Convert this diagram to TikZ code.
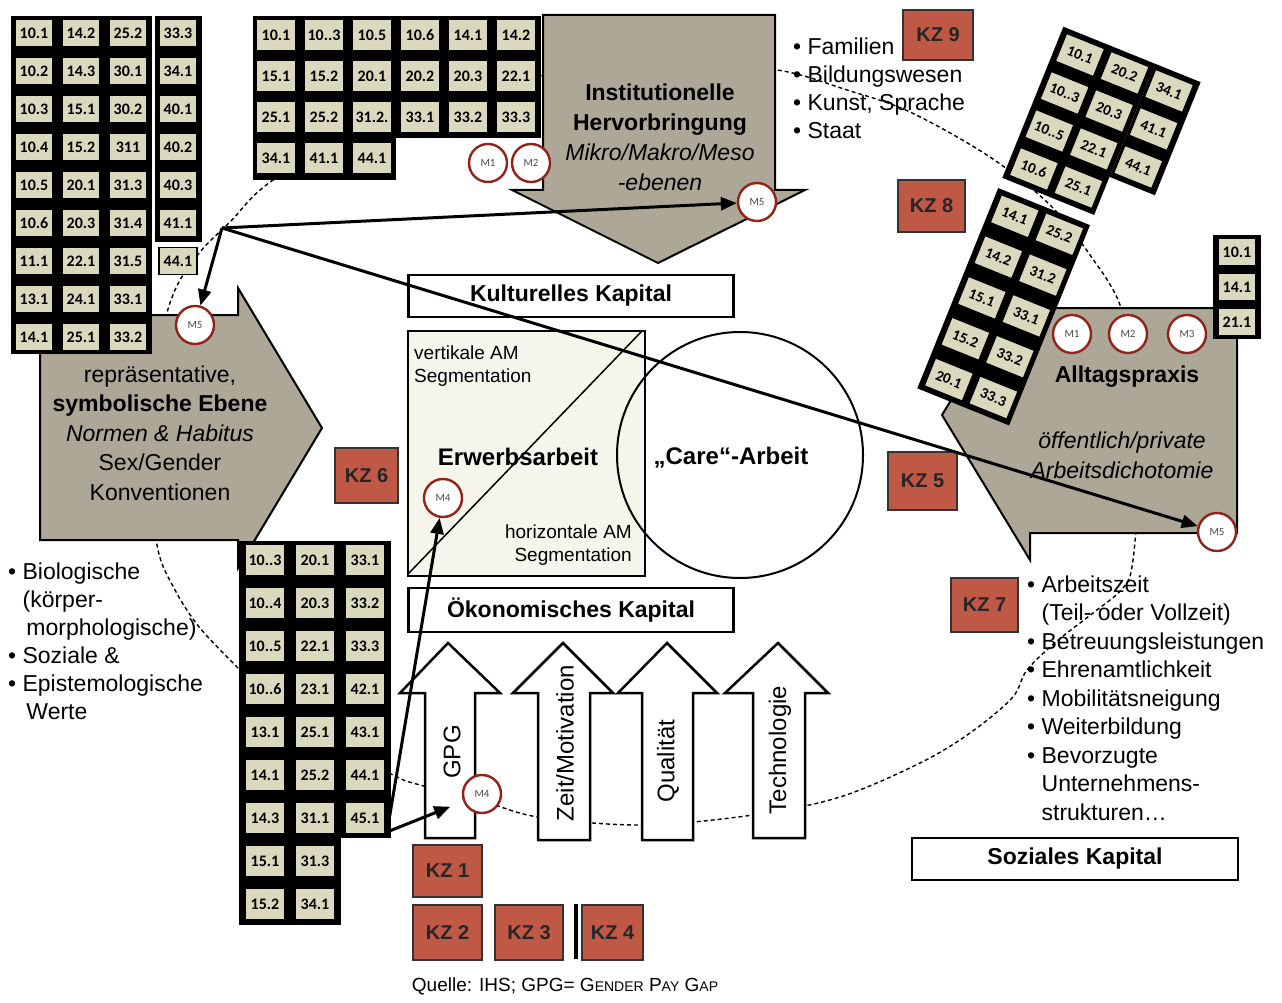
\documentclass[tikz,border=0pt]{standalone}
\usepackage{fontspec}
\setmainfont{Liberation Sans}
\newfontfamily\cellfont{Carlito}
\usetikzlibrary{arrows.meta}
\definecolor{cellbg}{RGB}{218,217,190}
\definecolor{shapegray}{RGB}{172,167,150}
\definecolor{kzred}{RGB}{192,88,70}
\definecolor{mred}{RGB}{145,35,25}
\definecolor{sqfill}{RGB}{245,245,236}
\newcommand{\myfs}[2]{\fontsize{#1}{#2}\selectfont}
\newcommand{\smallc}[1]{{\fontsize{14}{14}\selectfont #1}}
\begin{document}
\begin{tikzpicture}[x=1pt,y=-1pt,
  cell/.style={fill=cellbg,draw=black,line width=1.2pt,minimum width=38pt,minimum height=27pt,inner sep=0pt,font=\cellfont\bfseries\myfs{16}{16}},
  cellb/.style={cell,minimum width=40pt,minimum height=31pt},
  tlabel/.style={inner sep=0pt,font=\cellfont\bfseries\myfs{15}{15}},
  tbox/.style={fill=cellbg,draw=black,line width=1.2pt},
  grayshape/.style={fill=shapegray,draw=black,line width=2pt,line join=miter},
  kz/.style={fill=kzred,draw=black!80,line width=2pt,inner sep=0pt,font=\bfseries\myfs{20}{20},text=black!85},
  mc/.style={circle,fill=white,draw=mred,line width=2.4pt,minimum size=38pt,inner sep=0pt,font=\cellfont\myfs{11}{11},text=black!70},
  kbox/.style={draw=black,line width=2.5pt,fill=white,inner sep=0pt,font=\bfseries\myfs{23}{23}},
  uparrow/.style={fill=white,draw=black,line width=2.5pt,line join=miter},
  bigarrow/.style={line width=3pt,-{Triangle[length=16pt,width=13pt]}},
  dashcurve/.style={line width=1.4pt,dash pattern=on 4pt off 3pt},
  lst/.style={anchor=base west,inner sep=0pt,font=\myfs{23}{23}},
  rot/.style={rotate=90,inner sep=0pt,font=\myfs{24}{24}}
]
\fill[white] (0,0) rectangle (1282,1003);
\useasboundingbox (0,0) rectangle (1282,1003);

% big dashed curve
\draw[dashcurve] plot[smooth cycle,tension=0.55] coordinates {
 (540,76) (680,66) (777,70) (847,90) (910,112) (990,157) (1050,205) (1090,255)
 (1120,305) (1136,380) (1140,460) (1133,560) (1123,588) (1093,613) (1057,641)
 (1027,670) (1012,698) (970,733) (920,763) (840,797) (753,815) (642,825)
 (538,817) (480,800) (420,785) (393,775) (320,735) (270,700) (237,667)
 (200,628) (175,590) (157,545) (150,450) (160,345) (175,290) (200,252)
 (230,222) (276,178) (400,110)};

% gray block arrows
\draw[grayshape] (40,315) -- (238,315) -- (238,288) -- (322,428) -- (238,568) -- (238,540) -- (40,540) -- cycle;
\draw[grayshape] (543,15) -- (775,15) -- (775,190) -- (805,190) -- (658,263) -- (512,190) -- (543,190) -- cycle;
\draw[grayshape] (1237,308) -- (1237,533) -- (1030,533) -- (1030,560) -- (942,415) -- (1030,270) -- (1030,308) -- cycle;

% top-left grid
\fill (11,16) rectangle (152,354);
\fill (155,16) rectangle (202,242);
\foreach \lab [count=\i from 0] in {10.1,10.2,10.3,10.4,10.5,10.6,11.1,13.1,14.1}
  \node[cell] (tla\i) at (34,33+38*\i) {\lab};
\foreach \lab [count=\i from 0] in {14.2,14.3,15.1,15.2,20.1,20.3,22.1,24.1,25.1}
  \node[cell] (tlb\i) at (81,33+38*\i) {\lab};
\foreach \lab [count=\i from 0] in {25.2,30.1,30.2,311,31.3,31.4,31.5,33.1,33.2}
  \node[cell] (tlc\i) at (128,33+38*\i) {\lab};
\foreach \lab [count=\i from 0] in {33.3,34.1,40.1,40.2,40.3,41.1,44.1}
  \node[cell] (tld\i) at (178,33+38*\i) {\lab};

% top grid
\fill (253,16) rectangle (541,138);
\fill (253,138) rectangle (396,180);
\foreach \lab [count=\i from 0] in {10.1,10..3,10.5,10.6,14.1,14.2}
  \node[cellb] (tga\i) at (276+48*\i,35) {\lab};
\foreach \lab [count=\i from 0] in {15.1,15.2,20.1,20.2,20.3,22.1}
  \node[cellb] (tgb\i) at (276+48*\i,76) {\lab};
\foreach \lab [count=\i from 0] in {25.1,25.2,31.2.,33.1,33.2,33.3}
  \node[cellb] (tgc\i) at (276+48*\i,117) {\lab};
\foreach \lab [count=\i from 0] in {34.1,41.1,44.1}
  \node[cellb] (tgd\i) at (276+48*\i,158) {\lab};

% tilted grid
\begin{scope}[shift={(1080,55)},rotate=-22,transform shape]
  \fill (-26,-20) rectangle (73,143);
  \fill (73,-20) rectangle (122,102);
  \fill (-26,154) rectangle (73,370);
  \foreach \lab/\yy [count=\i] in {10.1/0,10..3/41,10..5/82,10.6/123,14.1/174,14.2/218,15.1/262,15.2/306,20.1/350}{
    \draw[tbox] (-20.5,\yy-15) rectangle (20.5,\yy+15);
    \node[tlabel] (tta\i) at (0,\yy) {\lab};}
  \foreach \lab/\yy [count=\i] in {20.2/0,20.3/41,22.1/82,25.1/123,25.2/174,31.2/218,33.1/262,33.2/306,33.3/350}{
    \draw[tbox] (27.5,\yy-15) rectangle (68.5,\yy+15);
    \node[tlabel] (ttb\i) at (48,\yy) {\lab};}
  \foreach \lab/\yy [count=\i] in {34.1/0,41.1/41,44.1/82}{
    \draw[tbox] (75.5,\yy-15) rectangle (116.5,\yy+15);
    \node[tlabel] (ttc\i) at (96,\yy) {\lab};}
\end{scope}

% right small grid
\fill (1213,235) rectangle (1261,339);
\foreach \lab [count=\i from 0] in {10.1,14.1,21.1}
  \node[cell] (rg\i) at (1237,252+35*\i) {\lab};

% bottom grid
\fill (239,541) rectangle (391,838);
\fill (239,838) rectangle (341,925);
\foreach \lab [count=\i from 0] in {10..3,10..4,10..5,10..6,13.1,14.1,14.3,15.1,15.2}
  \node[cellb] (bga\i) at (265,560+43*\i) {\lab};
\foreach \lab [count=\i from 0] in {20.1,20.3,22.1,23.1,25.1,25.2,31.1,31.3,34.1}
  \node[cellb] (bgb\i) at (315,560+43*\i) {\lab};
\foreach \lab [count=\i from 0] in {33.1,33.2,33.3,42.1,43.1,44.1,45.1}
  \node[cellb] (bgc\i) at (365,560+43*\i) {\lab};

% central boxes
\node[kbox,minimum width=325pt,minimum height=42pt] (kult) at (571,296) {Kulturelles Kapital};
\node[draw=black,line width=2.5pt,fill=sqfill,minimum width=237pt,minimum height=245pt,inner sep=0pt] (sq) at (526.5,453.5) {};
\draw[line width=1.5pt] ([shift={(2,-4)}]sq.south west) -- ([xshift=-5pt,yshift=-2pt]sq.north east);
\node[circle,draw=black,line width=2pt,minimum size=246pt,inner sep=0pt] (care) at (740,455) {};
\node[kbox,minimum width=325pt,minimum height=44pt] (oeko) at (571,610) {Ökonomisches Kapital};
\node[kbox,minimum width=326pt,minimum height=42pt] (soz) at (1075,859) {Soziales Kapital};

\node[anchor=west,align=left,inner sep=0pt,font=\myfs{19}{23}] (vert) at (414,366) {vertikale AM\\Segmentation};
\node[anchor=east,align=right,inner sep=0pt,font=\myfs{19}{23}] (horiz) at (632,545) {horizontale AM\\Segmentation};
\node[inner sep=0pt,font=\bfseries\myfs{24}{24}] (erw) at (518,457) {Erwerbsarbeit};
\node[inner sep=0pt,font=\bfseries\myfs{24}{24}] (caretxt) at (731,458) {„Care“-Arbeit};

% texts in gray shapes
\node[align=center,inner sep=0pt,font=\myfs{23}{29.5}] (repr) at (160,433)
  {repräsentative,\\\textbf{symbolische Ebene}\\\textit{Normen \& Habitus}\\Sex/Gender\\Konventionen};
\node[align=center,inner sep=0pt,font=\myfs{23}{30}] (inst) at (660,137)
  {\textbf{Institutionelle}\\\textbf{Hervorbringung}\\\textit{Mikro/Makro/Meso}\\\textit{-ebenen}};
\node[inner sep=0pt,font=\bfseries\myfs{23}{23}] (allt) at (1127,377) {Alltagspraxis};
\node[align=center,inner sep=0pt,font=\itshape\myfs{23}{30}] (oeff) at (1122,455) {öffentlich/private\\Arbeitsdichotomie};

% up arrows
\draw[uparrow] (425,838) -- (425,693) -- (400,693) -- (448,643) -- (500,693) -- (475,693) -- (475,838) -- cycle;
\draw[uparrow] (538,840) -- (538,693) -- (513,693) -- (563,643) -- (613,693) -- (590,693) -- (590,840) -- cycle;
\draw[uparrow] (642,840) -- (642,693) -- (618,693) -- (667,643) -- (717,693) -- (693,693) -- (693,840) -- cycle;
\draw[uparrow] (753,838) -- (753,693) -- (725,693) -- (778,643) -- (828,693) -- (805,693) -- (805,838) -- cycle;
\node[rot] (gpg) at (452,752) {GPG};
\node[rot] (zeit) at (565,743) {Zeit/Motivation};
\node[rot] (qual) at (668,761) {Qualität};
\node[rot] (tech) at (780,750) {Technologie};

% KZ boxes
\node[kz,minimum width=70pt,minimum height=50pt] (kz9) at (938,35) {KZ 9};
\node[kz,minimum width=67pt,minimum height=52pt] (kz8) at (931.5,206) {KZ 8};
\node[kz,minimum width=63pt,minimum height=55pt] (kz6) at (366.5,475.5) {KZ 6};
\node[kz,minimum width=69pt,minimum height=58pt] (kz5) at (922.5,481) {KZ 5};
\node[kz,minimum width=67pt,minimum height=54pt] (kz7) at (984.5,605) {KZ 7};
\node[kz,minimum width=69pt,minimum height=52pt] (kz1) at (447.5,871) {KZ 1};
\node[kz,minimum width=69pt,minimum height=55pt] (kz2) at (447.5,932.5) {KZ 2};
\node[kz,minimum width=68pt,minimum height=55pt] (kz3) at (529,932.5) {KZ 3};
\node[kz,minimum width=61pt,minimum height=55pt] (kz4) at (612.5,932.5) {KZ 4};
\draw[line width=4pt] (kz4.north west) ++(-5,0) coordinate (barA) -- ++(0,55) coordinate (barB);

% lists
\foreach \t [count=\i from 0] in {Familien,Bildungswesen,{Kunst, Sprache},Staat}
  \node[lst] (lt\i) at (793,55+28*\i) {• \t};
\foreach \t [count=\i from 0] in {• Biologische,\phantom{• }(körper-,\phantom{• }\,morphologische),• Soziale \&,• Epistemologische,\phantom{• }\,Werte}
  \node[lst] (ll\i) at (8,579+28*\i) {\t};
\foreach \t [count=\i from 0] in {• Arbeitszeit,\phantom{• }(Teil- oder Vollzeit),• Betreuungsleistungen,• Ehrenamtlichkeit,• Mobilitätsneigung,• Weiterbildung,• Bevorzugte,\phantom{• }Unternehmens-,\phantom{• }strukturen…}
  \node[lst] (lr\i) at (1027,592+28.5*\i) {\t};

\node[inner sep=0pt,font=\myfs{19}{19}] (quelle) at (565,986) {Quelle: IHS; GPG= G\smallc{ENDER} P\smallc{AY} G\smallc{AP}};

% M circles
\node[mc] (m1inst) at (488,163) {M1};
\node[mc] (m2inst) at (531,163) {M2};
\node[mc] (m5inst) at (757,202) {M5};
\node[mc] (m5left) at (195,325) {M5};
\node[mc] (m1all) at (1072,334) {M1};
\node[mc] (m2all) at (1128,334) {M2};
\node[mc] (m3all) at (1187,334) {M3};
\node[mc] (m5all) at (1217,532) {M5};
\node[mc] (m4sq) at (443,498) {M4};
\node[mc] (m4gpg) at (482,794) {M4};

% arrows
\coordinate (P) at (222,228);
\coordinate (Q) at (387,832);
\draw[bigarrow] (P) -- (m5inst);
\draw[bigarrow] (P) -- (m5left);
\draw[bigarrow] (P) -- (m5all);
\draw[bigarrow] (Q) -- (m4sq);
\draw[bigarrow,shorten >=14pt] (Q) -- (m4gpg);
\end{tikzpicture}
\end{document}
